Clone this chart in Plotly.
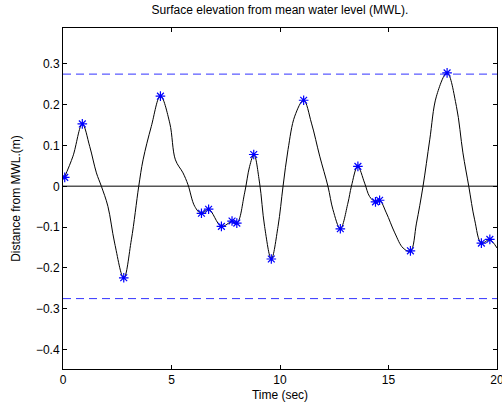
import plotly.graph_objects as go

# Surface elevation curve
t_curve = [0.05, 0.46, 0.89, 1.23, 1.54, 1.77, 2.07, 2.38, 2.80, 3.15, 3.49, 3.69, 4.07, 4.49,
           4.92, 5.18, 5.53, 5.76, 6.07, 6.38, 6.71, 7.30, 7.79, 8.02, 8.37, 8.60, 8.80,
           9.06, 9.29, 9.60, 9.91, 10.14, 10.37, 10.68, 11.09, 11.45, 11.83, 12.21, 12.44,
           12.78, 13.13, 13.29, 13.58, 13.90, 14.13, 14.40, 14.59, 14.90, 15.29, 15.67,
           16.01, 16.29, 16.59, 16.90, 17.21, 17.70, 18.13, 18.43, 18.70, 18.97, 19.28,
           19.66, 20.0]
v_curve = [0.020, 0.074, 0.153, 0.098, 0.033, 0.0, -0.049, -0.139, -0.225, -0.131, 0.0, 0.065,
           0.147, 0.222, 0.155, 0.065, 0.033, 0.004, -0.049, -0.067, -0.056, -0.098, -0.086,
           -0.090, -0.016, 0.049, 0.078, 0.008, -0.098, -0.178, -0.098, 0.0, 0.09, 0.172,
           0.211, 0.155, 0.074, 0.0, -0.057, -0.104, -0.041, 0.0, 0.049, 0.008, -0.025,
           -0.038, -0.034, -0.065, -0.114, -0.151, -0.159, -0.090, 0.0, 0.114, 0.221, 0.278,
           0.196, 0.082, 0.0, -0.082, -0.139, -0.131, -0.151]

# Extrema markers
t_peaks = [0.08, 0.89, 2.80, 4.49, 6.38, 6.71, 7.30, 7.79, 8.01, 8.79, 9.60, 11.09, 12.78,
           13.59, 14.40, 14.59, 16.01, 17.70, 19.28, 19.67]
v_peaks = [0.022, 0.153, -0.224, 0.221, -0.066, -0.056, -0.098, -0.085, -0.090, 0.078,
           -0.178, 0.211, -0.104, 0.049, -0.038, -0.034, -0.158, 0.278, -0.139, -0.130]

x_span = [0, 20]
zero_level = [0, 0]
upper_limit = [0.275, 0.275]
lower_limit = [-0.275, -0.275]

x_ticks = [0, 5, 10, 15, 20]
y_ticks = [-0.4, -0.3, -0.2, -0.1, 0, 0.1, 0.2, 0.3]

fig = go.Figure()
fig.add_trace(go.Scatter(x=x_span, y=zero_level, mode="lines",
                         line=dict(color="#555555", width=1.5), showlegend=False))
fig.add_trace(go.Scatter(x=x_span, y=upper_limit, mode="lines",
                         line=dict(color="#3333ff", width=1, dash="8px,5px"), showlegend=False))
fig.add_trace(go.Scatter(x=x_span, y=lower_limit, mode="lines",
                         line=dict(color="#3333ff", width=1, dash="8px,5px"), showlegend=False))
fig.add_trace(go.Scatter(x=t_curve, y=v_curve, mode="lines",
                         line=dict(color="black", width=1, shape="spline", smoothing=1),
                         showlegend=False))
fig.add_trace(go.Scatter(x=t_peaks, y=v_peaks, mode="markers",
                         marker=dict(symbol="asterisk-open", size=8, color="#0000ff",
                                     line=dict(color="#0000ff", width=1.2)),
                         showlegend=False))

fam = "Liberation Sans, Arial, sans-serif"
fig.update_layout(
    width=502, height=406,
    margin=dict(l=63, r=5, t=28, b=37),
    paper_bgcolor="white", plot_bgcolor="white",
    font=dict(family=fam, size=12, color="black"),
    title=dict(text="Surface elevation from mean water level (MWL).",
               x=0.5, xref="paper", xanchor="center", y=1, yref="container",
               yanchor="top", pad=dict(t=6), font=dict(family=fam, size=12, color="black")),
)
fig.update_xaxes(range=[0, 20], tickvals=x_ticks, ticks="inside", ticklen=4,
                 tickcolor="black", showline=True, linecolor="black", linewidth=1,
                 mirror="ticks", showgrid=False, zeroline=False, automargin=False,
                 ticklabeloverflow="allow",
                 title=dict(text="Time (sec)", standoff=4, font=dict(family=fam, size=12)),
                 tickfont=dict(family=fam, size=12))
fig.update_yaxes(range=[-0.4475, 0.388], tickvals=y_ticks, ticks="inside", ticklen=4,
                 tickcolor="black", showline=True, linecolor="black", linewidth=1,
                 mirror="ticks", showgrid=False, zeroline=False, automargin=False,
                 title=dict(text="Distance from MWL.(m)", standoff=12, font=dict(family=fam, size=12)),
                 tickfont=dict(family=fam, size=12))

fig.write_html("out.html")
